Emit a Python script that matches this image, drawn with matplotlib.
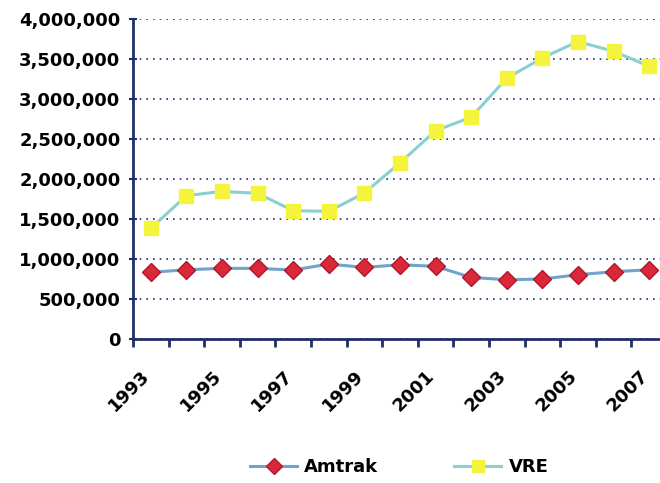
import matplotlib.pyplot as plt
import matplotlib.transforms as mtransforms
from matplotlib.ticker import FuncFormatter, FixedLocator

years = list(range(1993, 2008))
amtrak = [833000, 866000, 883000, 883000, 862000, 937000, 895000, 929000,
          908000, 770000, 741000, 750000, 804000, 841000, 866000]
vre = [1383000, 1791000, 1845000, 1820000, 1604000, 1595000, 1825000, 2200000,
       2604000, 2770000, 3258000, 3512000, 3716000, 3595000, 3408000]

navy = "#1f2f6b"
plt.rcParams["font.family"] = ["DejaVu Sans"]

fig = plt.figure(figsize=(6.6, 4.83), dpi=100)
ax = fig.add_axes([0.2015, 0.298, 0.809, 0.663])

x = list(range(len(years)))
ax.plot(x, amtrak, color="#6fa3cc", lw=2.2, marker="D", ms=9,
        mfc="#d8283a", mec="#b01828", mew=1, label="Amtrak", zorder=3)
ax.plot(x, vre, color="#8ccfcf", lw=2.2, marker="s", ms=10,
        mfc="#f4f43c", mec="#f4f43c", label="VRE", zorder=3)

ax.set_xlim(-0.5, 14.5)
ax.set_ylim(0, 4000000)
ax.set_yticks(range(0, 4000001, 500000))
ax.yaxis.set_major_formatter(FuncFormatter(lambda v, p: f"{int(v):,}"))
ax.grid(axis="y", linestyle=(0, (1, 3)), color=navy, lw=1.2)
ax.set_axisbelow(True)

# category labels every other year, tick marks between categories
ax.set_xticks(x[::2])
ax.set_xticklabels([str(y) for y in years[::2]], rotation=45, ha="right",
                   rotation_mode="anchor")
ax.xaxis.set_minor_locator(FixedLocator([i - 0.5 for i in range(16)]))
ax.tick_params(axis="x", which="major", length=0, pad=20)
ax.tick_params(axis="x", which="minor", length=6, width=2, color=navy,
               direction="out")
ax.tick_params(axis="y", length=6, width=1.5, color=navy, direction="inout", pad=6)
shift = mtransforms.ScaledTranslation(-10 / 100, 0, fig.dpi_scale_trans)
for lab in ax.get_xticklabels():
    lab.set_transform(lab.get_transform() + shift)
for lab in ax.get_xticklabels() + ax.get_yticklabels():
    lab.set_fontsize(13)
    lab.set_fontweight("bold")

for s in ["top", "right"]:
    ax.spines[s].set_visible(False)
for s in ["left", "bottom"]:
    ax.spines[s].set_color(navy)
    ax.spines[s].set_linewidth(2)

leg = fig.legend(loc="lower center", bbox_to_anchor=(0.605, -0.02), ncol=2,
                 frameon=False, prop={"weight": "bold", "size": 13},
                 handlelength=2.6, columnspacing=4.2, handletextpad=0.4,
                 markerscale=0.85)

fig.savefig("out.png", dpi=100)
